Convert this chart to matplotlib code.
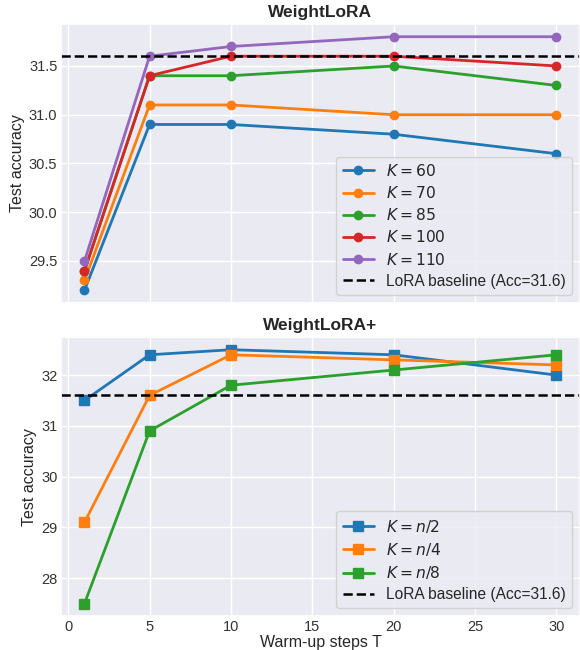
import matplotlib
matplotlib.use("Agg")
import matplotlib.pyplot as plt
import seaborn as sns

sns.set_theme(style="darkgrid")
plt.rcParams['font.family'] = ['Liberation Sans', 'DejaVu Sans']

steps = [1, 5, 10, 20, 30]
top_labels = [r"$K = 60$", r"$K = 70$", r"$K = 85$", r"$K = 100$", r"$K = 110$"]
top_values = [
    [29.2, 30.9, 30.9, 30.8, 30.6],
    [29.3, 31.1, 31.1, 31.0, 31.0],
    [29.4, 31.4, 31.4, 31.5, 31.3],
    [29.4, 31.4, 31.6, 31.6, 31.5],
    [29.5, 31.6, 31.7, 31.8, 31.8],
]
bot_labels = [r"$K = n/2$", r"$K = n/4$", r"$K = n/8$"]
bot_values = [
    [31.5, 32.4, 32.5, 32.4, 32.0],
    [29.1, 31.6, 32.4, 32.3, 32.2],
    [27.5, 30.9, 31.8, 32.1, 32.4],
]
baseline = 31.6
baseline_label = "LoRA baseline (Acc=31.6)"
colors = ['#1f77b4', '#ff7f0e', '#2ca02c', '#d62728', '#9467bd']

fig = plt.figure(figsize=(5.8, 6.5), dpi=100)
ax1 = fig.add_axes([0.105, 0.534, 0.895, 0.429])
ax2 = fig.add_axes([0.105, 0.052, 0.895, 0.4295], sharex=ax1)

tick_color = '#333333'
for lab, vals, c in zip(top_labels, top_values, colors):
    ax1.plot(steps, vals, marker='o', color=c, lw=2, ms=6, label=lab)
ax1.axhline(baseline, color='black', ls='--', lw=1.8, label=baseline_label)
ax1.set_title("WeightLoRA", fontweight='bold', fontsize=12.5, pad=5)
ax1.set_ylabel("Test accuracy", fontsize=11.5, labelpad=3)
ax1.tick_params(labelbottom=False, labelsize=10.5, length=0, pad=2.5, labelcolor=tick_color)
ax1.set_yticks([29.5, 30.0, 30.5, 31.0, 31.5])
ax1.legend(loc='lower right', fontsize=11.2, labelspacing=0.4)

for lab, vals, c in zip(bot_labels, bot_values, colors):
    ax2.plot(steps, vals, marker='s', color=c, lw=2, ms=6.5, label=lab)
ax2.axhline(baseline, color='black', ls='--', lw=1.8, label=baseline_label)
ax2.set_title("WeightLoRA+", fontweight='bold', fontsize=12.5, pad=5)
ax2.set_ylabel("Test accuracy", fontsize=11.5, labelpad=3)
ax2.set_xlabel("Warm-up steps T", fontsize=11.5, labelpad=1)
ax2.tick_params(labelsize=10.5, length=0, pad=2.5, labelcolor=tick_color)
ax2.set_yticks([28, 29, 30, 31, 32])
ax2.set_xticks([0, 5, 10, 15, 20, 25, 30])
ax2.legend(loc='lower right', fontsize=11.2, labelspacing=0.4)

fig.savefig("out.png", dpi=100)
